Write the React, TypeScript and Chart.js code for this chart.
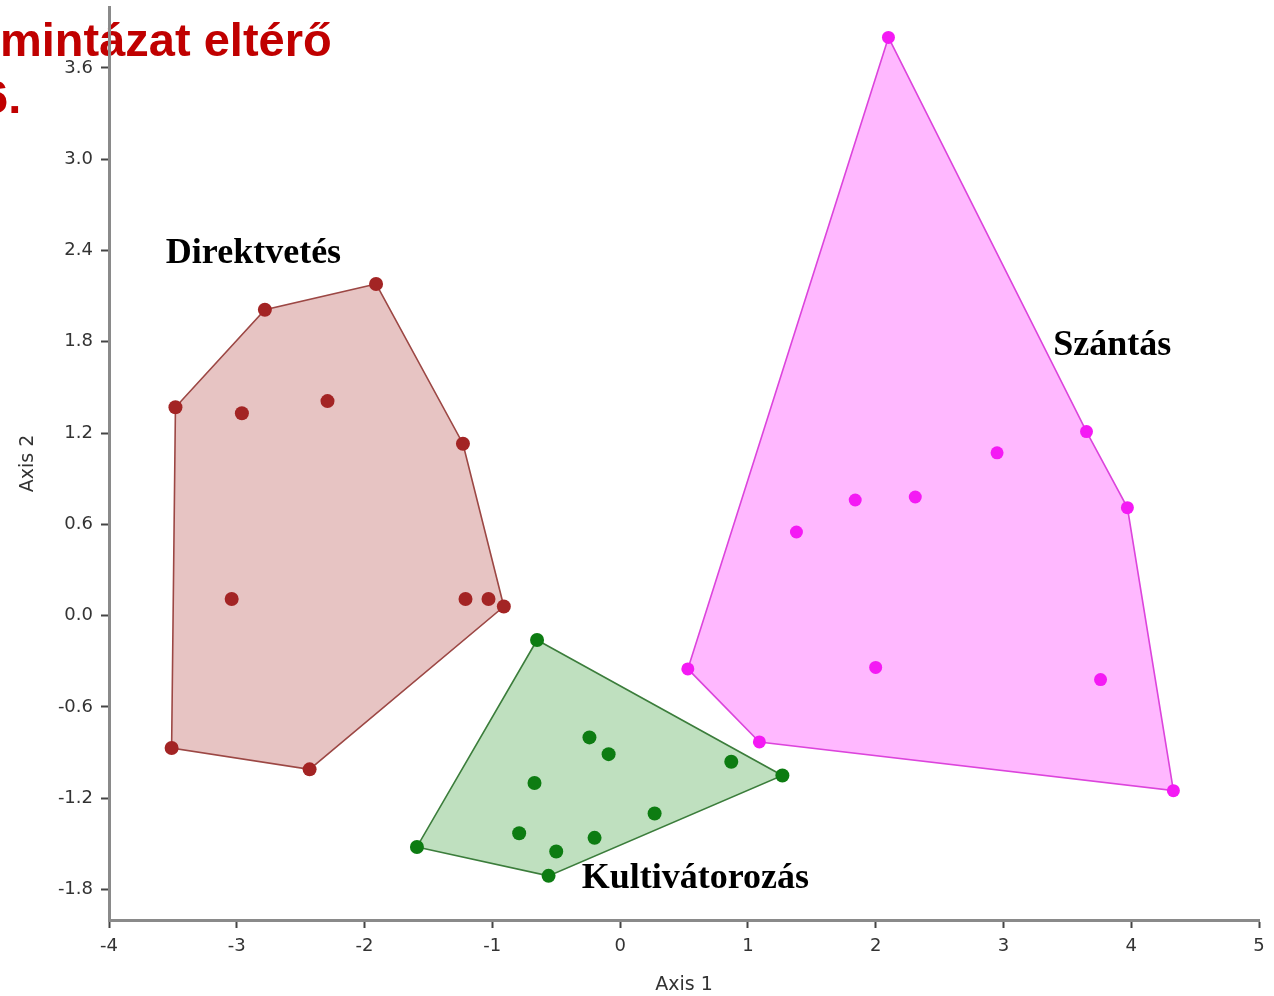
import { useEffect, useRef } from "react";
import { Chart, registerables } from "chart.js";

Chart.register(...registerables);

// Ordination scores (Axis 1, Axis 2) per tillage treatment
const direktvetes: [number, number][] = [
  [-1.91, 2.18],
  [-2.78, 2.01],
  [-3.48, 1.37],
  [-2.96, 1.33],
  [-2.29, 1.41],
  [-1.23, 1.13],
  [-3.04, 0.11],
  [-1.21, 0.11],
  [-1.03, 0.11],
  [-0.91, 0.06],
  [-3.51, -0.87],
  [-2.43, -1.01],
];

const kultivatorozas: [number, number][] = [
  [-0.65, -0.16],
  [1.27, -1.05],
  [-0.56, -1.71],
  [-1.59, -1.52],
  [-0.24, -0.8],
  [-0.09, -0.91],
  [0.87, -0.96],
  [-0.67, -1.1],
  [0.27, -1.3],
  [-0.79, -1.43],
  [-0.2, -1.46],
  [-0.5, -1.55],
];

const szantas: [number, number][] = [
  [2.1, 3.8],
  [3.65, 1.21],
  [3.97, 0.71],
  [4.33, -1.15],
  [1.09, -0.83],
  [0.53, -0.35],
  [1.38, 0.55],
  [1.84, 0.76],
  [2.31, 0.78],
  [2.95, 1.07],
  [2.0, -0.34],
  [3.76, -0.42],
];

// Convex hull vertices (indices into the score lists above)
const direktvetesHull = [0, 5, 9, 11, 10, 2, 1];
const kultivatorozasHull = [0, 1, 2, 3];
const szantasHull = [0, 1, 2, 3, 4, 5];

const groupNames = ["Direktvetés", "Kultivátorozás", "Szántás"];
const xTicks = [-4, -3, -2, -1, 0, 1, 2, 3, 4, 5];
const yTicks = [-1.8, -1.2, -0.6, 0, 0.6, 1.2, 1.8, 2.4, 3.0, 3.6];
const headingLines = ["mintázat eltérő", "6."];

const toXY = (pts: [number, number][]) => pts.map(([x, y]) => ({ x, y }));
const hullPath = (pts: [number, number][], hull: number[]) =>
  [...hull, hull[0]].map((i) => ({ x: pts[i][0], y: pts[i][1] }));

// Where each group name is written, in axis units (left edge, baseline)
const labelAnchors = [
  { x: -3.555, y: 2.32 },
  { x: -0.3, y: -1.79 },
  { x: 3.39, y: 1.715 },
];

const headingPlugin = {
  id: "heading",
  beforeDraw(chart: any) {
    const ctx = chart.ctx as CanvasRenderingContext2D;
    ctx.save();
    ctx.fillStyle = "#c00000";
    ctx.font = 'bold 47px "Liberation Sans", Arial, sans-serif';
    ctx.textBaseline = "alphabetic";
    ctx.textAlign = "left";
    ctx.fillText(headingLines[0], 0, 56);
    ctx.fillText(headingLines[1], -18, 113);
    ctx.restore();
  },
};

const groupLabelPlugin = {
  id: "groupLabels",
  afterDatasetsDraw(chart: any) {
    const ctx = chart.ctx as CanvasRenderingContext2D;
    const xs = chart.scales.x;
    const ys = chart.scales.y;
    ctx.save();
    ctx.fillStyle = "#000";
    ctx.font = 'bold 36px "Liberation Serif", "Times New Roman", serif';
    ctx.textBaseline = "alphabetic";
    ctx.textAlign = "left";
    groupNames.forEach((name, i) => {
      const a = labelAnchors[i];
      ctx.fillText(name, xs.getPixelForValue(a.x), ys.getPixelForValue(a.y));
    });
    ctx.restore();
  },
};

const tickFont = { family: '"DejaVu Sans", Tahoma, sans-serif', size: 18 };
const titleFont = { family: '"DejaVu Sans", Tahoma, sans-serif', size: 19 };

export default function App() {
  const canvasRef = useRef<HTMLCanvasElement | null>(null);

  useEffect(() => {
    const canvas = canvasRef.current;
    if (!canvas) return;

    const hullSet = (pts: [number, number][], hull: number[], fillColor: string, lineColor: string) => ({
      type: "scatter" as const,
      data: hullPath(pts, hull),
      showLine: true,
      fill: "shape",
      backgroundColor: fillColor,
      borderColor: lineColor,
      borderWidth: 1.6,
      pointRadius: 0,
      tension: 0,
      order: 2,
    });

    const pointSet = (pts: [number, number][], color: string, r: number) => ({
      type: "scatter" as const,
      data: toXY(pts),
      backgroundColor: color,
      borderColor: color,
      borderWidth: 0,
      pointRadius: r,
      showLine: false,
      order: 1,
    });

    const squeeze = (scale: any) => {
      scale.paddingTop = 0;
      scale.paddingBottom = 0;
      scale.paddingLeft = 0;
      scale.paddingRight = 0;
    };

    const axisGrid = {
      drawOnChartArea: false,
      drawTicks: true,
      tickLength: 8,
      tickColor: "#444",
      tickWidth: 2,
    };

    const chart = new Chart(canvas, {
      type: "scatter",
      data: {
        datasets: [
          hullSet(direktvetes, direktvetesHull, "#e7c4c3", "#9c4744"),
          hullSet(kultivatorozas, kultivatorozasHull, "#bfe0bf", "#3b7d3b"),
          hullSet(szantas, szantasHull, "#ffb8ff", "#dc44dc"),
          pointSet(direktvetes, "#a32424", 7),
          pointSet(kultivatorozas, "#0d7c12", 7),
          pointSet(szantas, "#f41af4", 6.5),
        ] as any,
      },
      options: {
        animation: false,
        responsive: false,
        layout: { padding: { top: 6, right: 15, left: 0, bottom: 0 } },
        plugins: {
          legend: { display: false },
          tooltip: { enabled: false },
        },
        scales: {
          x: {
            type: "linear",
            min: -4,
            max: 5,
            afterBuildTicks: (scale: any) => {
              scale.ticks = xTicks.map((value) => ({ value }));
            },
            afterFit: (scale: any) => {
              scale.height = 76;
              squeeze(scale);
            },
            border: { display: true, color: "#8a8a8a", width: 3 },
            grid: axisGrid,
            ticks: {
              color: "#333",
              font: tickFont,
              padding: 8,
              maxRotation: 0,
              callback: (v: any) => String(v),
            },
            title: {
              display: true,
              text: "Axis 1",
              color: "#333",
              font: titleFont,
              padding: { top: 4, bottom: 0 },
            },
          },
          y: {
            type: "linear",
            min: -2,
            max: 4,
            afterBuildTicks: (scale: any) => {
              scale.ticks = yTicks.map((value) => ({ value }));
            },
            afterFit: (scale: any) => {
              scale.width = 109;
              squeeze(scale);
            },
            border: { display: true, color: "#8a8a8a", width: 3 },
            grid: axisGrid,
            ticks: {
              color: "#333",
              font: tickFont,
              padding: 8,
              callback: (v: any) => Number(v).toFixed(1),
            },
            title: {
              display: true,
              text: "Axis 2",
              color: "#333",
              font: titleFont,
              padding: { top: 17, bottom: 0 },
            },
          },
        },
      },
      plugins: [headingPlugin, groupLabelPlugin],
    } as any);

    return () => chart.destroy();
  }, []);

  return (
    <div style={{ position: "absolute", left: 0, top: 0, width: 1274, height: 996, background: "#fff" }}>
      <canvas ref={canvasRef} width={1274} height={996} style={{ display: "block" }} />
    </div>
  );
}
